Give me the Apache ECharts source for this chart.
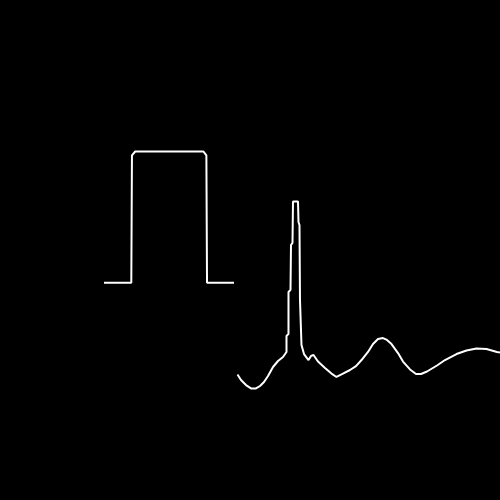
<!DOCTYPE html>
<html>
<head>
<meta charset="utf-8">
<script src="https://cdn.jsdelivr.net/npm/echarts@6/dist/echarts.min.js"></script>
<style>
html,body{margin:0;padding:0;background:#000;}
#chart{width:500px;height:500px;}
</style>
</head>
<body>
<div id="chart"></div>
<script>
// Rectangular pulse (time domain)
var pulseTime = [-1, -0.58, -0.57, -0.52, 0.53, 0.575, 0.585, 1];
var pulseAmp  = [0, 0, 0.97, 1, 1, 0.97, 0, 0];

// Spectrum (frequency domain)
var specFreq = [0.19, 1.52, 3.42, 5.32, 7.22, 8.75, 10.27, 11.79, 13.69, 15.59, 17.49,
  18.82, 18.82, 19.58, 19.58, 20.34, 20.53, 21.10, 21.29, 23.19, 23.38, 23.76, 23.95, 24.33, 24.52,
  25.48, 26.05, 27.19, 28.14, 29.09, 30.80, 33.46, 35.93, 37.83, 40.30, 42.97, 45.25, 47.34,
  49.81, 51.71, 53.61, 55.51, 57.03, 58.75, 61.22, 63.12, 65.78, 68.06, 69.96, 72.24, 76.05,
  79.09, 83.46, 87.26, 91.06, 94.87, 98.86, 100];
var specAmp = [0.077, 0.048, 0.021, 0.003, 0.003, 0.016, 0.037, 0.069, 0.117, 0.149, 0.170,
  0.197, 0.282, 0.293, 0.516, 0.527, 0.766, 0.777, 0.997, 0.997, 0.888, 0.872, 0.473, 0.463, 0.234,
  0.186, 0.176, 0.154, 0.176, 0.181, 0.146, 0.112, 0.082, 0.064, 0.082, 0.101, 0.122, 0.154,
  0.197, 0.239, 0.266, 0.271, 0.261, 0.239, 0.191, 0.146, 0.104, 0.080, 0.080, 0.093, 0.125,
  0.154, 0.186, 0.205, 0.215, 0.213, 0.197, 0.194];

function zip(a, b) { return a.map(function (v, i) { return [v, b[i]]; }); }

var chart = echarts.init(document.getElementById('chart'), null, {renderer: 'canvas'});
var hiddenAxis = {show: false, splitLine: {show: false}};
chart.setOption({
  backgroundColor: '#000000',
  animation: false,
  grid: [
    {left: 104, top: 151.5, width: 130, height: 131.2, containLabel: false},
    {left: 237, top: 201, width: 263, height: 188, containLabel: false}
  ],
  xAxis: [
    Object.assign({type: 'value', gridIndex: 0, min: -1, max: 1}, hiddenAxis),
    Object.assign({type: 'value', gridIndex: 1, min: 0, max: 100}, hiddenAxis)
  ],
  yAxis: [
    Object.assign({type: 'value', gridIndex: 0, min: 0, max: 1}, hiddenAxis),
    Object.assign({type: 'value', gridIndex: 1, min: 0, max: 1}, hiddenAxis)
  ],
  series: [
    {type: 'line', xAxisIndex: 0, yAxisIndex: 0, data: zip(pulseTime, pulseAmp),
     showSymbol: false, clip: false, lineStyle: {color: '#ffffff', width: 2}},
    {type: 'line', xAxisIndex: 1, yAxisIndex: 1, data: zip(specFreq, specAmp),
     showSymbol: false, clip: false, lineStyle: {color: '#ffffff', width: 2}}
  ]
});
</script>
</body>
</html>
